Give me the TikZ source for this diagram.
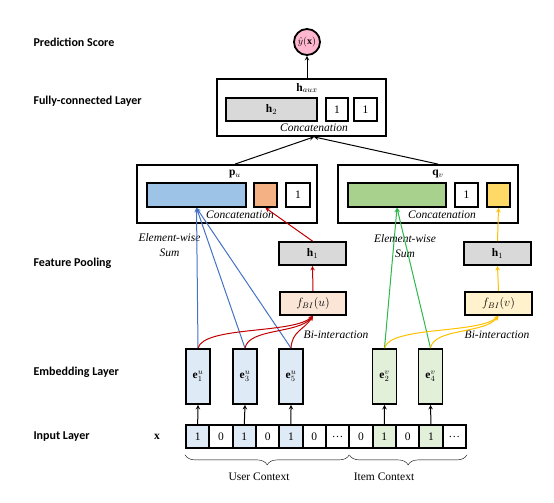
\documentclass[tikz,border=0pt]{standalone}
\usepackage{fontspec}
\setmainfont{Liberation Serif}
\newfontfamily\layerfont{Carlito}
\usetikzlibrary{decorations.pathreplacing}
\definecolor{pinkc}{HTML}{FFB6CF}
\definecolor{grayc}{HTML}{D9D9D9}
\definecolor{bluec}{HTML}{9DC3E6}
\definecolor{orangec}{HTML}{F4B183}
\definecolor{greenc}{HTML}{A9D18E}
\definecolor{yellowc}{HTML}{FFD966}
\definecolor{fuc}{HTML}{FBE5D6}
\definecolor{fvc}{HTML}{FFF2CC}
\definecolor{euc}{HTML}{DEEBF7}
\definecolor{evc}{HTML}{E2F0D9}
\definecolor{blueline}{HTML}{4472C4}
\definecolor{greenline}{HTML}{2DB84B}
\definecolor{redline}{HTML}{C00000}
\definecolor{yellowline}{HTML}{FFC000}
\begin{document}
\begin{tikzpicture}[x=1pt,y=-1pt,>=stealth,font=\fontsize{11.5}{13}\selectfont,
  vecbox/.style={draw,line width=1.8pt,inner sep=0pt,minimum height=23pt},
  layerbox/.style={draw,line width=1.8pt,inner sep=0pt,minimum width=180pt,minimum height=58pt},
  emb/.style={draw,line width=1.8pt,inner sep=0pt,minimum width=24pt,minimum height=55pt},
  cell/.style={draw,line width=1.8pt,inner sep=0pt,minimum width=23.33pt,minimum height=23pt},
  layer/.style={anchor=west,font=\layerfont\bfseries\fontsize{12}{14}\selectfont},
  conn/.style={->,line width=1pt}]
\useasboundingbox (0,0) rectangle (554,503);

% layer names
\node[layer] (lpred) at (30,42) {Prediction Score};
\node[layer] (lfc) at (30,101) {Fully-connected Layer};
\node[layer] (lpool) at (30,263) {Feature Pooling};
\node[layer] (lemb) at (30,372) {Embedding Layer};
\node[layer] (linput) at (30,437) {Input Layer};
\node (xlbl) at (157,437) {$\mathbf{x}$};

% prediction and fully-connected layer
\node[circle,draw,line width=1.8pt,fill=pinkc,minimum size=26pt,inner sep=0pt,font=\fontsize{10}{12}\selectfont] (yhat) at (307,42) {$\hat{y}(\mathbf{x})$};
\node[draw,line width=1.8pt,minimum width=169pt,minimum height=57pt] (haux) at (301.5,107.5) {};
\node (hauxlbl) at (307,88) {$\mathbf{h}_{aux}$};
\node[vecbox,fill=grayc,minimum width=91pt] (h2) at (271.5,109.5) {$\mathbf{h}_2$};
\node[vecbox,minimum width=22pt] (hone1) at (337,109.5) {1};
\node[vecbox,minimum width=23pt] (hone2) at (365.5,109.5) {1};
\node (hconcat) at (314,128) {\textit{Concatenation}};

% pooled user and item vectors
\node[layerbox] (pu) at (227,194) {};
\node (pulbl) at (235,174) {$\mathbf{p}_u$};
\node[vecbox,fill=bluec,minimum width=99pt,minimum height=24pt] (ublue) at (196.5,195) {};
\node[vecbox,fill=orangec,minimum width=23pt,minimum height=24pt] (uorange) at (265.5,195) {};
\node[vecbox,minimum width=24pt,minimum height=24pt] (uone) at (298,195) {1};
\node (uconcat) at (240,215) {\textit{Concatenation}};

\node[layerbox] (qv) at (428,194) {};
\node (qvlbl) at (438,174) {$\mathbf{q}_v$};
\node[vecbox,fill=greenc,minimum width=98pt,minimum height=24pt] (igreen) at (397,195) {};
\node[vecbox,minimum width=23pt,minimum height=24pt] (ione) at (466.5,195) {1};
\node[vecbox,fill=yellowc,minimum width=23pt,minimum height=24pt] (iyellow) at (498.5,195) {};
\node (iconcat) at (442,215) {\textit{Concatenation}};

\node[align=center,font=\itshape\fontsize{11.5}{15}\selectfont] (usum) at (169.5,245.5) {Element-wise\\Sum};
\node[align=center,font=\itshape\fontsize{11.5}{15}\selectfont] (isum) at (405,246.5) {Element-wise\\Sum};

% bi-interaction pooling
\node[vecbox,fill=grayc,minimum width=67pt] (h1u) at (312.5,253.5) {$\mathbf{h}_1$};
\node[vecbox,fill=grayc,minimum width=67pt] (h1v) at (497.5,253.5) {$\mathbf{h}_1$};
\node[vecbox,fill=fuc,minimum width=66pt] (fu) at (313,303.5) {$f_{BI}(u)$};
\node[vecbox,fill=fvc,minimum width=67pt] (fv) at (498.5,303.5) {$f_{BI}(v)$};
\node (ubi) at (336,335) {\textit{Bi-interaction}};
\node (ibi) at (497,335) {\textit{Bi-interaction}};

% embeddings
\node[emb,fill=euc] (e1) at (198,376.5) {$\mathbf{e}^u_1$};
\node[emb,fill=euc] (e3) at (245,376.5) {$\mathbf{e}^u_3$};
\node[emb,fill=euc] (e5) at (291,376.5) {$\mathbf{e}^u_5$};
\node[emb,fill=evc] (e2) at (384.5,376.5) {$\mathbf{e}^v_2$};
\node[emb,fill=evc] (e4) at (430.5,376.5) {$\mathbf{e}^v_4$};

% input cells
\foreach \val/\col [count=\i] in {1/euc,0/white,1/euc,0/white,1/euc,0/white,\dots/white,0/white,1/evc,0/white,1/evc,\dots/white}
  \node[cell,fill=\col] (x\i) at ({186+23.33*(\i-0.5)},436.5) {\val};

\foreach \i/\e in {1/e1,3/e3,5/e5,9/e2,11/e4}
  \draw[conn] (x\i.north) -- (\e.south);

% braces
\draw[decorate,decoration={brace,mirror,amplitude=10pt}] ([yshift=-6pt]x1.south west) -- ([yshift=-6pt,xshift=-1pt]x7.south east);
\draw[decorate,decoration={brace,mirror,amplitude=10pt}] ([yshift=-6pt,xshift=1pt]x8.south west) -- ([yshift=-6pt]x12.south east);
\node (userctx) at (259,477) {User Context};
\node (itemctx) at (384,477) {Item Context};

% element-wise sum
\foreach \e in {e1,e3,e5}
  \draw[conn,blueline] (\e.north) -- (ublue.south);
\foreach \e in {e2,e4}
  \draw[conn,greenline] (\e.north) -- (igreen.south);

% bi-interaction
\draw[conn,redline] (e1.north) .. controls (204,326) and (292,334) .. (fu.south);
\draw[conn,redline] (e3.north) .. controls (249,328) and (298,334) .. (fu.south);
\draw[conn,redline] (e5.north) .. controls (292,331) and (304,330) .. (fu.south);
\draw[conn,redline] (fu.north) -- (h1u.south);
\draw[conn,redline] (h1u.north) -- (uorange.south);
\draw[conn,yellowline] (e2.north) .. controls (390,326) and (478,334) .. (fv.south);
\draw[conn,yellowline] (e4.north) .. controls (434,328) and (484,334) .. (fv.south);
\draw[conn,yellowline] (fv.north) -- (h1v.south);
\draw[conn,yellowline] (h1v.north) -- (iyellow.south);

% to the top
\draw[conn] (pu.north -| pulbl) -- (haux.south -| hconcat);
\draw[conn] (qv.north -| qvlbl) -- (haux.south -| hconcat);
\draw[conn] (haux.north -| yhat) -- (yhat.south);

\end{tikzpicture}
\end{document}
